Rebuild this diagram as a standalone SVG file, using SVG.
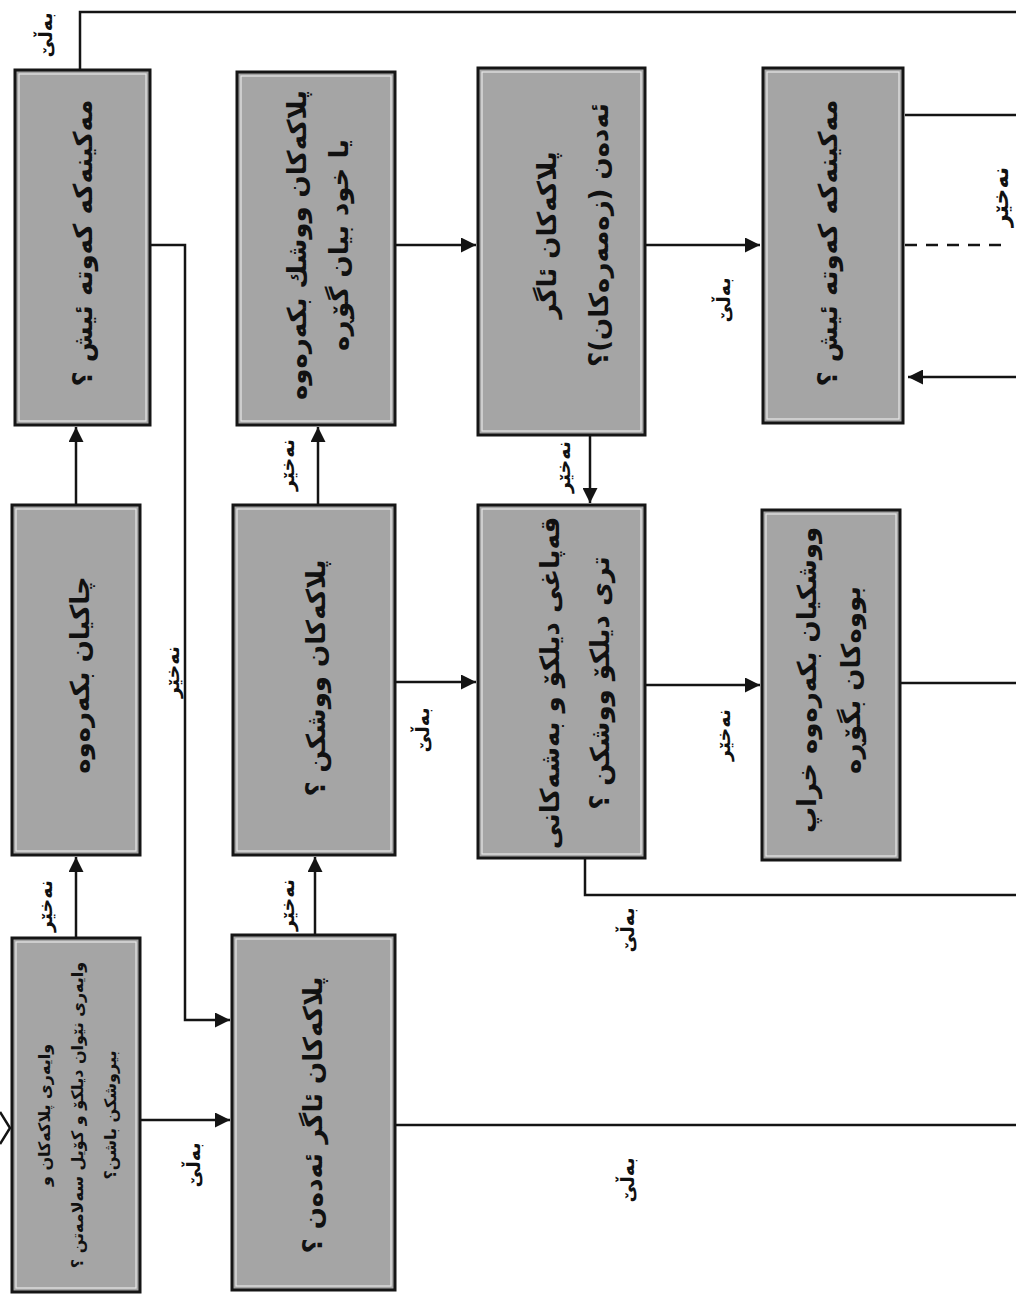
<svg xmlns="http://www.w3.org/2000/svg" width="1016" height="1298" viewBox="0 0 1016 1298">
<style>
.box{fill:#a5a5a5;stroke:#151515;stroke-width:3}
.inner{fill:none;stroke:#e8e8e8;stroke-width:1.2}
.t{font-family:"DejaVu Sans","Noto Sans",sans-serif;font-weight:bold;font-size:26px;fill:#111;text-anchor:middle;dominant-baseline:central}
.s{font-size:16px}
.lbl{font-family:"DejaVu Sans","Noto Sans",sans-serif;font-weight:bold;font-size:19px;fill:#111;text-anchor:middle;dominant-baseline:central}
.ln{fill:none;stroke:#141414;stroke-width:2.5}
.dash{fill:none;stroke:#141414;stroke-width:2.5;stroke-dasharray:12 9}
</style>
<defs>
<marker id="ah" viewBox="0 0 10 10" refX="10" refY="5" markerWidth="6" markerHeight="6" orient="auto" markerUnits="strokeWidth">
<path d="M0,0 L10,5 L0,10 z" fill="#141414"/>
</marker>
</defs>
<rect width="1016" height="1298" fill="#ffffff"/>

<g id="connectors">
<polyline class="ln" points="0,1112 10,1128 0,1144"/>
<line class="ln" x1="76" y1="938" x2="76" y2="857" marker-end="url(#ah)"/>
<line class="ln" x1="76" y1="505" x2="76" y2="427" marker-end="url(#ah)"/>
<polyline class="ln" points="80,70 80,12 1016,12"/>
<polyline class="ln" points="150,245 185,245 185,1020 230,1020" marker-end="url(#ah)"/>
<line class="ln" x1="140" y1="1120" x2="230" y2="1120" marker-end="url(#ah)"/>
<line class="ln" x1="315" y1="935" x2="315" y2="857" marker-end="url(#ah)"/>
<line class="ln" x1="318" y1="505" x2="318" y2="427" marker-end="url(#ah)"/>
<line class="ln" x1="395" y1="1125" x2="1016" y2="1125"/>
<line class="ln" x1="395" y1="682" x2="476" y2="682" marker-end="url(#ah)"/>
<line class="ln" x1="395" y1="245" x2="476" y2="245" marker-end="url(#ah)"/>
<line class="ln" x1="590" y1="435" x2="590" y2="503" marker-end="url(#ah)"/>
<line class="ln" x1="645" y1="245" x2="760" y2="245" marker-end="url(#ah)"/>
<line class="ln" x1="645" y1="685" x2="760" y2="685" marker-end="url(#ah)"/>
<polyline class="ln" points="585,858 585,895 1016,895"/>
<line class="ln" x1="905" y1="115" x2="1016" y2="115"/>
<line class="dash" x1="905" y1="245" x2="1010" y2="245"/>
<line class="ln" x1="1016" y1="377" x2="908" y2="377" marker-end="url(#ah)"/>
<line class="ln" x1="900" y1="683" x2="1016" y2="683"/>
</g>

<g id="n1">
<rect class="box" x="12" y="938" width="128" height="354"/>
<rect class="inner" x="16" y="942" width="120" height="346"/>
<g transform="translate(77,1115) rotate(-90)">
<text class="t s" x="0" y="-33">وایەری پلاکەکان و</text>
<text class="t s" x="0" y="0">وایەری نێوان دیلکۆ و کۆیل سەلامەتن ؟</text>
<text class="t s" x="0" y="33">بیروشکن باشن؟</text>
</g>
</g>

<g id="n2">
<rect class="box" x="12" y="505" width="128" height="350"/>
<rect class="inner" x="16" y="509" width="120" height="342"/>
<g transform="translate(80,675) rotate(-90)"><text class="t" x="0" y="0">چاکیان بکەرەوە</text></g>
</g>

<g id="n3">
<rect class="box" x="15" y="70" width="135" height="355"/>
<rect class="inner" x="19" y="74" width="127" height="347"/>
<g transform="translate(83,243) rotate(-90)"><text class="t" x="0" y="0">مەکینەکە کەوتە ئیش ؟</text></g>
</g>

<g id="n4">
<rect class="box" x="232" y="935" width="163" height="355"/>
<rect class="inner" x="236" y="939" width="155" height="347"/>
<g transform="translate(313,1115) rotate(-90)"><text class="t" x="0" y="0">پلاکەکان ئاگر ئەدەن ؟</text></g>
</g>

<g id="n5">
<rect class="box" x="233" y="505" width="162" height="350"/>
<rect class="inner" x="237" y="509" width="154" height="342"/>
<g transform="translate(316,678) rotate(-90)"><text class="t" x="0" y="0">پلاکەکان ووشکن ؟</text></g>
</g>

<g id="n6">
<rect class="box" x="237" y="72" width="158" height="353"/>
<rect class="inner" x="241" y="76" width="150" height="345"/>
<g transform="translate(318,245) rotate(-90)">
<text class="t" x="0" y="-21">پلاکەکان ووشك بکەرەوە</text>
<text class="t" x="0" y="21">یا خود بیان گۆڕە</text>
</g>
</g>

<g id="n7">
<rect class="box" x="478" y="68" width="167" height="367"/>
<rect class="inner" x="482" y="72" width="159" height="359"/>
<g transform="translate(573,235) rotate(-90)">
<text class="t" x="0" y="-26">پلاکەکان ئاگر</text>
<text class="t" x="0" y="26">ئەدەن (زەمەرەکان)؟</text>
</g>
</g>

<g id="n8">
<rect class="box" x="478" y="505" width="167" height="353"/>
<rect class="inner" x="482" y="509" width="159" height="345"/>
<g transform="translate(575,683) rotate(-90)">
<text class="t" x="0" y="-25">قەپاغی دیلکۆ و بەشەکانی</text>
<text class="t" x="0" y="25">تری دیلکۆ ووشکن ؟</text>
</g>
</g>

<g id="n9">
<rect class="box" x="763" y="68" width="140" height="355"/>
<rect class="inner" x="767" y="72" width="132" height="347"/>
<g transform="translate(828,243) rotate(-90)"><text class="t" x="0" y="0">مەکینەکە کەوتە ئیش ؟</text></g>
</g>

<g id="n10">
<rect class="box" x="762" y="510" width="138" height="350"/>
<rect class="inner" x="766" y="514" width="130" height="342"/>
<g transform="translate(829,680) rotate(-90)">
<text class="t" x="0" y="-22">ووشکیان بکەرەوە خراپ</text>
<text class="t" x="0" y="22">بووەکان بگۆڕە</text>
</g>
</g>

<g id="labels">
<g transform="translate(45,906) rotate(-90)"><text class="lbl">نەخێر</text></g>
<g transform="translate(45,35) rotate(-90)"><text class="lbl">بەڵێ</text></g>
<g transform="translate(172,672) rotate(-90)"><text class="lbl">نەخێر</text></g>
<g transform="translate(193,1165) rotate(-90)"><text class="lbl">بەڵێ</text></g>
<g transform="translate(287,905) rotate(-90)"><text class="lbl">نەخێر</text></g>
<g transform="translate(287,465) rotate(-90)"><text class="lbl">نەخێر</text></g>
<g transform="translate(422,730) rotate(-90)"><text class="lbl">بەڵێ</text></g>
<g transform="translate(563,467) rotate(-90)"><text class="lbl">نەخێر</text></g>
<g transform="translate(723,300) rotate(-90)"><text class="lbl">بەڵێ</text></g>
<g transform="translate(723,735) rotate(-90)"><text class="lbl">نەخێر</text></g>
<g transform="translate(627,930) rotate(-90)"><text class="lbl">بەڵێ</text></g>
<g transform="translate(627,1180) rotate(-90)"><text class="lbl">بەڵێ</text></g>
<g transform="translate(1000,197) rotate(-90)"><text class="lbl" style="font-size:22px">نەخێر</text></g>
</g>
</svg>
